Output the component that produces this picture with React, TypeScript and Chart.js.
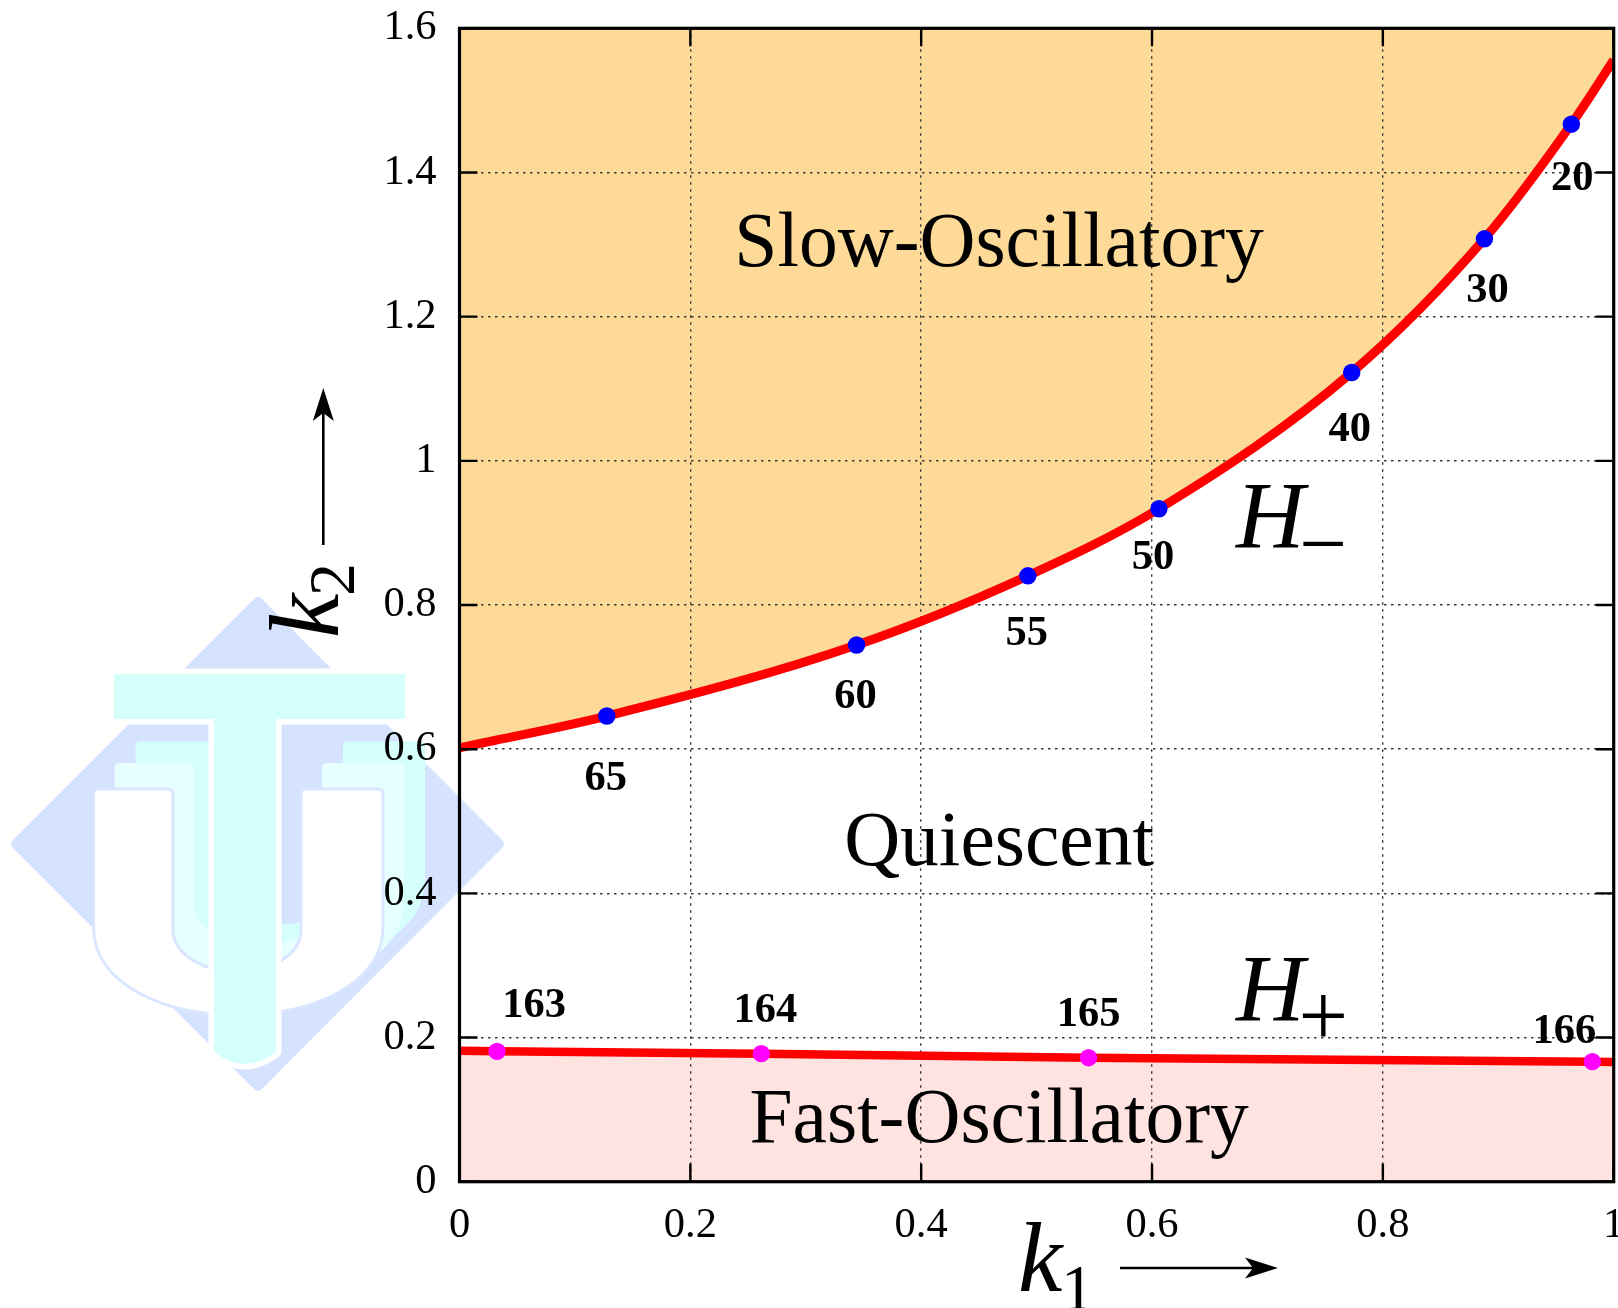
import React, { useEffect, useRef } from "react";
import { Chart, registerables } from "chart.js";

Chart.register(...registerables);

const upperCurveK1 = [0, 0.1276, 0.344, 0.4924, 0.606, 0.773, 0.888, 0.9633, 1];
const upperCurveK2 = [0.602, 0.646, 0.7445, 0.8405, 0.9335, 1.1225, 1.308, 1.467, 1.556];
const lowerCurveK1 = [0, 0.0325, 0.2615, 0.545, 0.9815, 1];
const lowerCurveK2 = [0.1815, 0.1808, 0.1776, 0.172, 0.1665, 0.1662];
const blueK1 = [0.9633, 0.888, 0.773, 0.606, 0.4924, 0.344, 0.1276];
const blueK2 = [1.467, 1.308, 1.1225, 0.9335, 0.8405, 0.7445, 0.646];
const blueLabels = ["20", "30", "40", "50", "55", "60", "65"];
const magentaK1 = [0.0325, 0.2615, 0.545, 0.9815];
const magentaK2 = [0.1808, 0.1776, 0.172, 0.1665];
const magentaLabels = ["163", "164", "165", "166"];
const regionNames = ["Slow-Oscillatory", "Quiescent", "Fast-Oscillatory"];
const regionK1 = [0.4675, 0.4675, 0.4675];
const regionK2 = [1.27, 0.439, 0.055];

const blueOffsets = [[1, 66], [3, 63], [-2, 68], [-6, 60], [-1, 69], [-1, 63], [-1, 74]];
const magentaOffsets = [[37, -34.6], [4, -32], [0, -32], [-28, -19]];

const SERIF = '"Liberation Serif", "Times New Roman", serif';
const ORANGE = "#FDDA97";
const PINK = "#FEE3E0";
const RED = "#FF0000";

function pairs(xs: number[], ys: number[]) {
  return xs.map((x, i) => ({ x, y: ys[i] }));
}

function uShape(ctx: CanvasRenderingContext2D, dx: number, dy: number) {
  const X = (v: number) => v + dx;
  const Y = (v: number) => v + dy;
  ctx.beginPath();
  ctx.moveTo(X(93.5), Y(794));
  ctx.lineTo(X(93.5), Y(927));
  ctx.bezierCurveTo(X(93.5), Y(985), X(165), Y(1015), X(238), Y(1015));
  ctx.bezierCurveTo(X(311), Y(1015), X(383), Y(985), X(383), Y(927));
  ctx.lineTo(X(383), Y(794));
  ctx.quadraticCurveTo(X(383), Y(789), X(378), Y(789));
  ctx.lineTo(X(306), Y(789));
  ctx.quadraticCurveTo(X(301), Y(789), X(301), Y(794));
  ctx.lineTo(X(301), Y(930));
  ctx.bezierCurveTo(X(301), Y(955), X(270), Y(972), X(238), Y(972));
  ctx.bezierCurveTo(X(205), Y(972), X(173), Y(955), X(173), Y(930));
  ctx.lineTo(X(173), Y(794));
  ctx.quadraticCurveTo(X(173), Y(789), X(168), Y(789));
  ctx.lineTo(X(98.5), Y(789));
  ctx.quadraticCurveTo(X(93.5), Y(789), X(93.5), Y(794));
  ctx.closePath();
}

function drawLogo(ctx: CanvasRenderingContext2D) {
  ctx.save();
  ctx.lineJoin = "round";
  ctx.fillStyle = "#D5E3FF";
  ctx.strokeStyle = "#D5E3FF";
  ctx.lineWidth = 10;
  ctx.beginPath();
  ctx.moveTo(258, 602);
  ctx.lineTo(499, 844);
  ctx.lineTo(258, 1086);
  ctx.lineTo(16, 844);
  ctx.closePath();
  ctx.fill();
  ctx.stroke();

  uShape(ctx, 42, -47.5);
  ctx.fillStyle = "#D4FFFB";
  ctx.fill();
  uShape(ctx, 21, -26);
  ctx.fillStyle = "#E6FFFF";
  ctx.fill();
  uShape(ctx, 0, 0);
  ctx.fillStyle = "#FFFFFF";
  ctx.fill();
  ctx.strokeStyle = "#D9E6FF";
  ctx.lineWidth = 3;
  ctx.stroke();

  ctx.beginPath();
  ctx.moveTo(114, 674);
  ctx.lineTo(405, 674);
  ctx.lineTo(405, 719);
  ctx.lineTo(276, 719);
  ctx.lineTo(276, 1052);
  ctx.quadraticCurveTo(245, 1076, 214, 1052);
  ctx.lineTo(214, 719);
  ctx.lineTo(114, 719);
  ctx.closePath();
  ctx.strokeStyle = "#FFFFFF";
  ctx.lineWidth = 11;
  ctx.stroke();
  ctx.fillStyle = "#D4FFFB";
  ctx.fill();
  ctx.restore();
}

function arrow(
  ctx: CanvasRenderingContext2D,
  x0: number,
  y0: number,
  x1: number,
  y1: number
) {
  const a = Math.atan2(y1 - y0, x1 - x0);
  const len = Math.hypot(x1 - x0, y1 - y0);
  ctx.save();
  ctx.translate(x0, y0);
  ctx.rotate(a);
  ctx.strokeStyle = "#000";
  ctx.fillStyle = "#000";
  ctx.lineWidth = 2.6;
  ctx.beginPath();
  ctx.moveTo(0, 0);
  ctx.lineTo(len - 20, 0);
  ctx.stroke();
  ctx.beginPath();
  ctx.moveTo(len, 0);
  ctx.lineTo(len - 33, -10.5);
  ctx.lineTo(len - 25, 0);
  ctx.lineTo(len - 33, 10.5);
  ctx.closePath();
  ctx.fill();
  ctx.restore();
}

const logoPlugin = {
  id: "logo",
  beforeDraw(chart: any) {
    drawLogo(chart.ctx);
  },
};

const overlayPlugin = {
  id: "overlay",
  afterDraw(chart: any) {
    const { ctx, chartArea: a, scales } = chart;
    const sx = scales.x;
    const sy = scales.y;
    ctx.save();

    ctx.strokeStyle = "#000";
    ctx.lineWidth = 2.4;
    ctx.beginPath();
    sx.ticks.forEach((t: any) => {
      const p = sx.getPixelForValue(t.value);
      ctx.moveTo(p, a.bottom);
      ctx.lineTo(p, a.bottom - 18);
      ctx.moveTo(p, a.top);
      ctx.lineTo(p, a.top + 18);
    });
    sy.ticks.forEach((t: any) => {
      const p = sy.getPixelForValue(t.value);
      ctx.moveTo(a.left, p);
      ctx.lineTo(a.left + 18, p);
      ctx.moveTo(a.right, p);
      ctx.lineTo(a.right - 18, p);
    });
    ctx.stroke();

    ctx.lineWidth = 3.2;
    ctx.strokeRect(a.left, a.top, a.right - a.left, a.bottom - a.top);

    ctx.fillStyle = "#000";
    ctx.textBaseline = "alphabetic";
    ctx.textAlign = "center";
    ctx.font = `bold 42.5px ${SERIF}`;
    blueLabels.forEach((s, i) => {
      ctx.fillText(
        s,
        sx.getPixelForValue(blueK1[i]) + blueOffsets[i][0],
        sy.getPixelForValue(blueK2[i]) + blueOffsets[i][1]
      );
    });
    magentaLabels.forEach((s, i) => {
      ctx.fillText(
        s,
        sx.getPixelForValue(magentaK1[i]) + magentaOffsets[i][0],
        sy.getPixelForValue(magentaK2[i]) + magentaOffsets[i][1]
      );
    });

    ctx.font = `77.5px ${SERIF}`;
    regionNames.forEach((s, i) => {
      ctx.fillText(s, sx.getPixelForValue(regionK1[i]), sy.getPixelForValue(regionK2[i]));
    });

    ctx.textAlign = "left";
    ctx.font = `italic 95px ${SERIF}`;
    ctx.fillText("H", 1236, 547.7);
    ctx.fillText("H", 1236, 1020.7);
    ctx.font = `85px ${SERIF}`;
    ctx.fillText("\u2212", 1299, 572);
    ctx.font = `88px ${SERIF}`;
    ctx.fillText("+", 1298.5, 1045);

    ctx.font = `italic 100px ${SERIF}`;
    ctx.fillText("k", 1018, 1290.7);
    ctx.font = `66px ${SERIF}`;
    ctx.fillText("1", 1061, 1310);
    arrow(ctx, 1120, 1268, 1278, 1268);

    ctx.save();
    ctx.translate(337.5, 638);
    ctx.rotate(-Math.PI / 2);
    ctx.font = `italic 100px ${SERIF}`;
    ctx.fillText("k", 0, 0);
    ctx.restore();
    ctx.save();
    ctx.translate(353.6, 596);
    ctx.rotate(-Math.PI / 2);
    ctx.font = `66px ${SERIF}`;
    ctx.fillText("2", 0, 0);
    ctx.restore();
    arrow(ctx, 323.3, 545, 323.3, 388);

    ctx.restore();
  },
};

export default function App() {
  const ref = useRef<HTMLCanvasElement>(null);

  useEffect(() => {
    const tickLabel = (v: any) => String(+Number(v).toFixed(1));
    const chart = new Chart(ref.current as HTMLCanvasElement, {
      type: "scatter",
      data: {
        datasets: [
          {
            label: "Markers H-",
            data: pairs(blueK1, blueK2),
            pointRadius: 8.7,
            pointBackgroundColor: "#0000FF",
            pointBorderWidth: 0,
            showLine: false,
            order: 1,
          },
          {
            label: "Markers H+",
            data: pairs(magentaK1, magentaK2),
            pointRadius: 8.7,
            pointBackgroundColor: "#FF00FF",
            pointBorderWidth: 0,
            showLine: false,
            order: 1,
          },
          {
            label: "H-",
            data: pairs(upperCurveK1, upperCurveK2),
            showLine: true,
            pointRadius: 0,
            borderColor: RED,
            borderWidth: 9,
            cubicInterpolationMode: "monotone",
            fill: { target: "end", above: ORANGE, below: ORANGE },
            backgroundColor: ORANGE,
            order: 2,
          },
          {
            label: "H+",
            data: pairs(lowerCurveK1, lowerCurveK2),
            showLine: true,
            pointRadius: 0,
            borderColor: RED,
            borderWidth: 8.5,
            fill: { target: "start", above: PINK, below: PINK },
            backgroundColor: PINK,
            order: 2,
          },
        ],
      } as any,
      options: {
        responsive: false,
        animation: false,
        events: [],
        layout: { autoPadding: false, padding: { left: 0, right: 4.3, top: 28.3, bottom: 0 } },
        plugins: {
          legend: { display: false },
          tooltip: { enabled: false },
          title: { display: false },
          filler: { drawTime: "beforeDraw" },
        },
        scales: {
          x: {
            type: "linear",
            min: 0,
            max: 1,
            grid: { color: "#3a3a3a", lineWidth: 1.4, drawTicks: false },
            border: { display: false, dash: [2.5, 4.5] },
            ticks: {
              stepSize: 0.2,
              callback: tickLabel,
              color: "#000",
              font: { family: SERIF, size: 42.5 },
              padding: 19,
              maxRotation: 0,
              autoSkip: false,
            },
            afterFit(s: any) {
              s.height = 126.3;
              s.paddingLeft = 0;
              s.paddingRight = 0;
            },
          },
          y: {
            type: "linear",
            min: 0,
            max: 1.6,
            grid: { color: "#3a3a3a", lineWidth: 1.4, drawTicks: false },
            border: { display: false, dash: [2.5, 4.5] },
            ticks: {
              stepSize: 0.2,
              callback: tickLabel,
              color: "#000",
              font: { family: SERIF, size: 42.5 },
              padding: 23,
              autoSkip: false,
            },
            afterFit(s: any) {
              s.width = 459.5;
              s.paddingTop = 0;
              s.paddingBottom = 0;
            },
          },
        },
      } as any,
      plugins: [logoPlugin, overlayPlugin],
    });
    return () => chart.destroy();
  }, []);

  return (
    <div style={{ position: "absolute", left: 0, top: 0, width: 1618, height: 1308, overflow: "hidden" }}>
      <canvas ref={ref} width={1618} height={1308} style={{ display: "block" }} />
    </div>
  );
}
